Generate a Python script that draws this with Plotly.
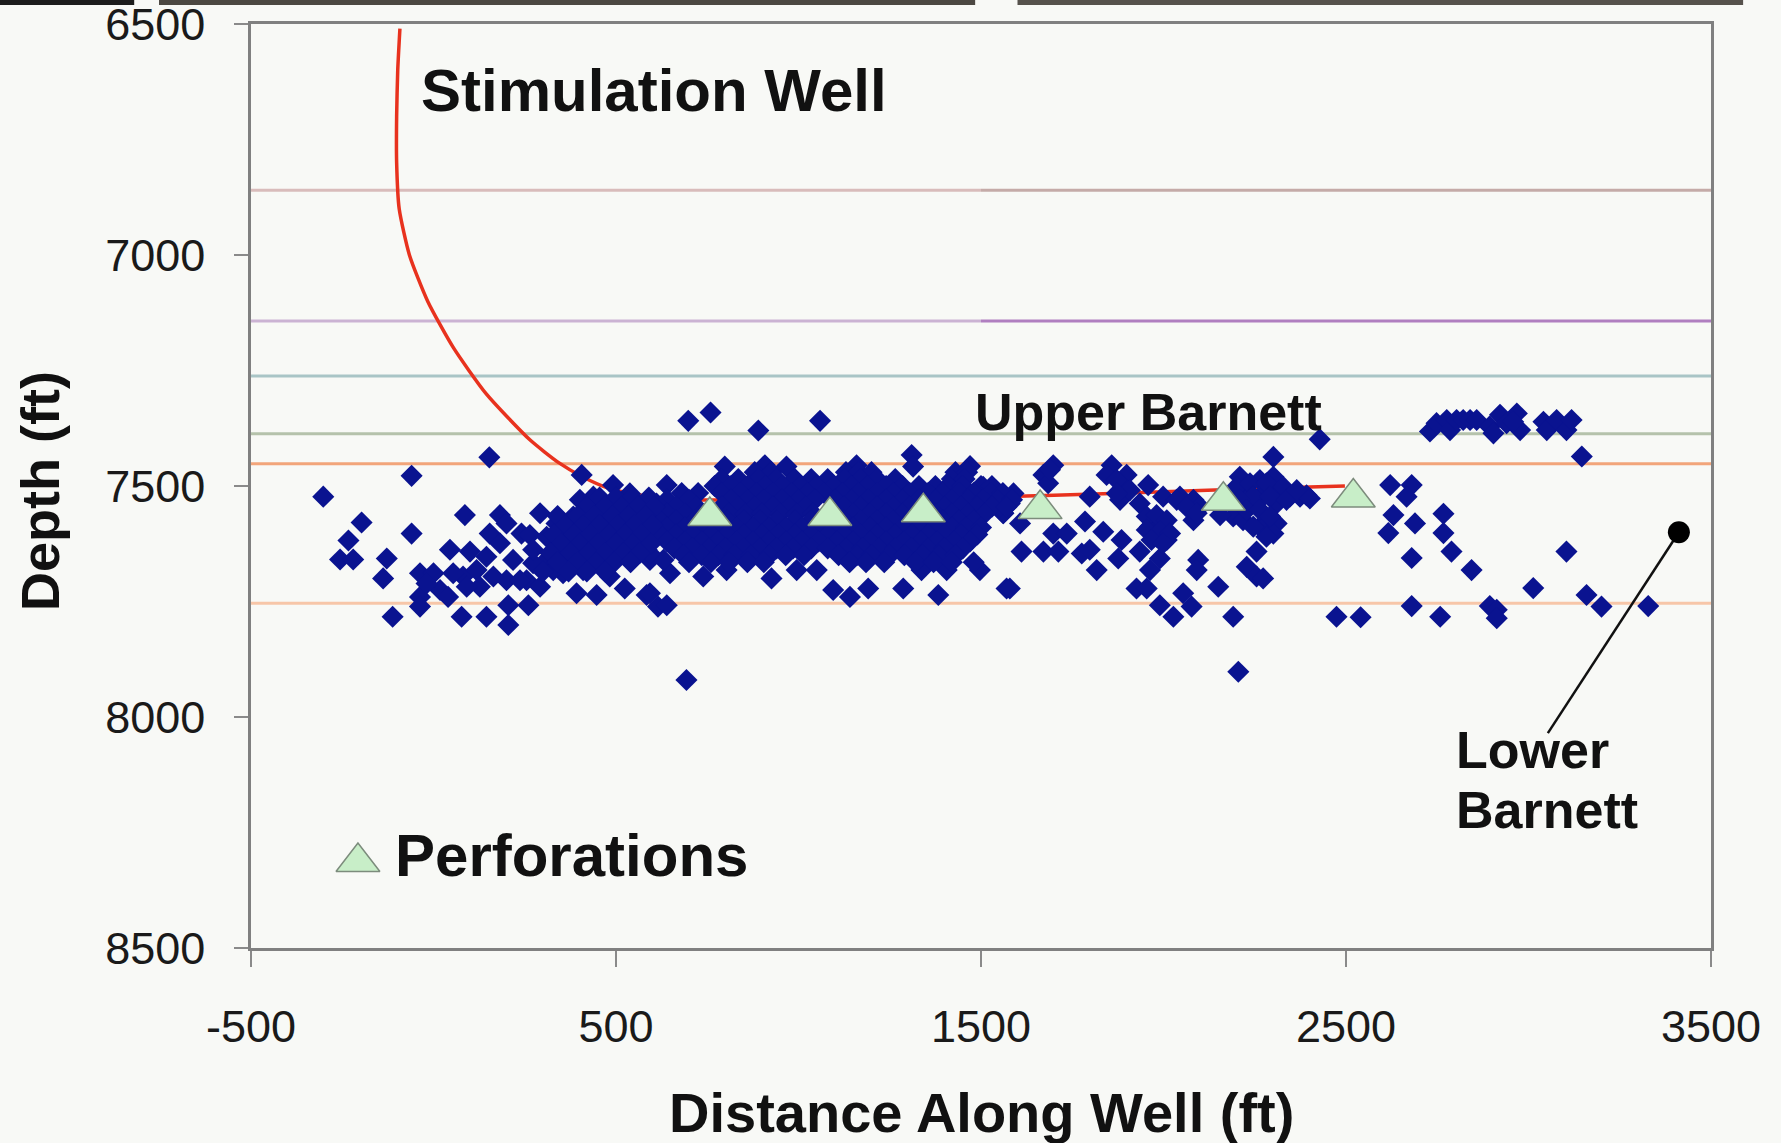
import plotly.graph_objects as go

# ---------------- data ----------------
x_tickvals = [-500, 500, 1500, 2500, 3500]
x_ticktext = ["-500", "500", "1500", "2500", "3500"]
y_tickvals = [6500, 7000, 7500, 8000, 8500]
y_ticktext = ["6500", "7000", "7500", "8000", "8500"]

# formation tops (ft)
formation_depth = [6860, 7143, 7262, 7387, 7452, 7754]

# stimulation well trajectory
well_x = [-92, -98, -101, -101, -94, -66, -16, 54, 144, 264, 344, 408, 480, 570, 680,
          1000, 1500, 1700, 2100, 2400, 2497]
well_depth = [6510, 6600, 6700, 6800, 6900, 7000, 7100, 7200, 7300, 7400, 7450, 7480, 7505, 7520, 7530,
              7528, 7524, 7520, 7510, 7502, 7500]

# perforations
perf_x = [757, 1086, 1342, 1662, 2164, 2520]
perf_depth = [7565, 7565, 7557, 7550, 7532, 7525]

# microseismic events - scattered
events_x = [
    -302, -60, 153, -197, -233, -256, -220, -128, -138, -60, -112, -37, 0, -37, -37, 18, 40, 45, 100, 86,
    77, 145, 205, 205, 260, 81, 118, 145, 182, 200, 154, 182, 241, 264, 292, 218, 200, 255, 292, 337,
    346, 310, 365, 355, 410, 410, 438, 392, 447, 483, 524, 584, 406, 401, 438, 492, 501, 547, 547, 510,
    584, 584, 547, 593, 611, 465, 428, 374, 483, 273, 237, 164, 127, 54, 91, -19, 273, 310, 328, 383,
    438, 538, 615,
    698, 759, 890, 1059, 1310, 1314, 798, 967, 908, 1159, 1470, 639, 693, 639, 593, 739, 803, 926, 995, 1050,
    1095, 1141, 1191, 1287, 1383, 1337, 1406, 1497, 1570, 1561, 1506, 648, 630, 602, 593,
    2428, 2301, 1698, 1671, 1684, 1858, 1844, 1899, 1890, 1881, 1798, 1958, 1999, 1935, 2045, 2082, 2100, 2082,
    1561, 1579, 1561, 1607, 1785, 1698, 1735, 1835, 1885, 1611, 1671, 1712, 1776, 1798, 1817, 1876, 1935, 1963,
    1999, 1981, 2009, 1990, 1963, 1926, 1954, 1990, 2027, 2054, 2077, 2095, 2091, 2150, 2191, 2205, 1579, 2228,
    2255, 2273, 2255, 2264, 2310, 2301, 2191, 2218, 2155, 2209, 2228, 2228, 2264, 2301, 2282, 2319, 2310, 2346,
    2374, 2392, 2264, 2474, 2540,
    1954, 1981, 2009, 1954, 1990, 2018, 1967, 1999, 2200, 2237, 2246, 2282, 2292, 2328, 2337, 2365, 2401, 2209,
    2228, 2264, 2292, 2246, 2282, 2036, 2063, 2091, 1689, 1872, 1908, 1872, 1589, 1552, 1533,
    3146, 2621, 2680, 2666, 2630, 2689, 2767, 2616, 2767, 2789, 2680, 2844, 3104, 3013, 3159, 3200, 3328,
    2680, 2758, 2894, 2913, 2913, 2730, 2748, 2776, 2785, 2803, 2821, 2840, 2858, 2894, 2904, 2922, 2940,
    2968, 2977, 2958, 3041, 3050, 3077, 3104, 3118,
]
events_depth = [
    7523, 7478, 7438, 7579, 7618, 7659, 7659, 7657, 7700, 7603, 7783, 7689, 7689, 7740, 7761, 7725, 7740, 7638, 7642, 7563,
    7783, 7783, 7801, 7758, 7758, 7696, 7682, 7653, 7563, 7581, 7603, 7624, 7603, 7606, 7559, 7660, 7704, 7704, 7718, 7581,
    7624, 7660, 7653, 7689, 7638, 7682, 7638, 7732, 7736, 7696, 7722, 7736, 7476, 7530, 7523, 7498, 7552, 7552, 7603, 7610,
    7588, 7638, 7653, 7660, 7538, 7588, 7603, 7603, 7631, 7667, 7704, 7696, 7718, 7689, 7718, 7711, 7638, 7610, 7682, 7566,
    7559, 7516, 7761,
    7359, 7341, 7380, 7359, 7433, 7458, 7458, 7458, 7455, 7455, 7457, 7498, 7920, 7758, 7732, 7696, 7682, 7700, 7682, 7682,
    7725, 7740, 7722, 7722, 7736, 7682, 7682, 7682, 7722, 7559, 7502, 7689, 7660, 7603, 7646,
    7399, 7437, 7455, 7476, 7494, 7455, 7476, 7476, 7502, 7530, 7523, 7498, 7523, 7538, 7523, 7530, 7545, 7574,
    7523, 7538, 7559, 7581, 7577, 7603, 7603, 7599, 7617, 7642, 7642, 7642, 7646, 7638, 7682, 7657, 7642, 7588,
    7581, 7610, 7617, 7657, 7682, 7722, 7722, 7758, 7783, 7732, 7761, 7660, 7682, 7718, 7783, 7902, 7722, 7675,
    7696, 7700, 7642, 7588, 7581, 7603, 7566, 7574, 7563, 7480, 7509, 7530, 7487, 7480, 7509, 7516, 7538, 7523,
    7523, 7520, 7530, 7783, 7784,
    7566, 7563, 7574, 7595, 7599, 7603, 7617, 7624, 7502, 7494, 7523, 7494, 7523, 7502, 7530, 7509, 7527, 7530,
    7552, 7552, 7566, 7588, 7610, 7530, 7545, 7559, 7465, 7487, 7509, 7516, 7516, 7545, 7516,
    7436, 7498, 7498, 7523, 7563, 7581, 7560, 7602, 7602, 7642, 7656, 7682, 7642, 7721, 7736, 7761, 7760,
    7760, 7783, 7760, 7768, 7786, 7382, 7364, 7357, 7379, 7357, 7357, 7357, 7357, 7371, 7386, 7346, 7364,
    7343, 7379, 7361, 7361, 7379, 7357, 7379, 7357,
]

# microseismic events - dense core, listed by depth rows
core_row_depth = [7470, 7485, 7500, 7515, 7530, 7545, 7560, 7575, 7590, 7605, 7620, 7635, 7650, 7665]
core_row_x = [
    [880, 925, 1130, 1165, 1200, 1430, 1462],
    [790, 835, 890, 940, 990, 1035, 1080, 1125, 1170, 1215, 1265, 1420, 1455],
    [770, 815, 860, 910, 955, 1005, 1050, 1095, 1145, 1190, 1240, 1285, 1330, 1375, 1410, 1450, 1500, 1530],
    [680, 725, 790, 840, 885, 930, 980, 1025, 1070, 1120, 1165, 1215, 1260, 1305, 1355, 1395, 1440, 1480, 1525, 1560],
    [640, 700, 815, 860, 905, 955, 1000, 1045, 1100, 1145, 1190, 1240, 1285, 1330, 1375, 1420, 1465, 1505, 1545, 1585],
    [620, 665, 720, 790, 835, 880, 930, 975, 1020, 1125, 1170, 1215, 1260, 1305, 1400, 1445, 1490, 1530, 1570],
    [640, 690, 735, 810, 855, 900, 950, 995, 1040, 1150, 1195, 1240, 1285, 1375, 1420, 1465, 1510],
    [620, 665, 715, 760, 805, 850, 895, 940, 990, 1035, 1080, 1125, 1170, 1215, 1260, 1305, 1350, 1395, 1440, 1480],
    [640, 690, 735, 780, 830, 875, 920, 965, 1010, 1055, 1100, 1150, 1195, 1240, 1285, 1330, 1375, 1420, 1460, 1500],
    [620, 665, 710, 760, 805, 850, 900, 945, 990, 1035, 1080, 1125, 1170, 1215, 1265, 1310, 1355, 1400, 1445, 1490],
    [640, 690, 735, 780, 830, 875, 920, 965, 1010, 1055, 1105, 1150, 1195, 1240, 1290, 1335, 1380, 1425, 1470],
    [660, 710, 755, 800, 850, 895, 940, 985, 1035, 1080, 1130, 1175, 1220, 1265, 1310, 1355, 1400, 1450],
    [685, 735, 780, 825, 870, 920, 965, 1015, 1110, 1160, 1200, 1250, 1290, 1340, 1385, 1430],
    [700, 760, 810, 860, 905, 1140, 1185, 1235, 1320, 1370, 1420, 1480],
]
heel_row_depth = [7525, 7545, 7565, 7585, 7605, 7625, 7645, 7665, 7685]
heel_row_x = [
    [455, 500, 545, 590],
    [420, 470, 515, 560, 605],
    [340, 395, 440, 490, 535, 580],
    [360, 410, 455, 505, 550, 600],
    [330, 385, 430, 480, 525, 570],
    [350, 400, 450, 500, 545, 595],
    [320, 375, 425, 470, 520, 565],
    [340, 395, 445, 495, 540],
    [300, 370, 420, 470],
]

# Lower Barnett pointer (circle end, text end)
pointer_x = [3412, 3053]
pointer_depth = [7600, 8035]

# legend sample
legend_x = [-207]
legend_depth = [8314]

# ---------------- build ----------------
all_x = list(events_x)
all_d = list(events_depth)
for d, row in zip(core_row_depth + heel_row_depth, core_row_x + heel_row_x):
    all_x.extend(row)
    all_d.extend([d] * len(row))

FONT = "Liberation Sans, Arial, sans-serif"
BG = "#f8f9f6"

fig = go.Figure()

fig.add_trace(go.Scatter(
    x=well_x, y=well_depth, mode="lines",
    line=dict(color="#e8321e", width=3.5, shape="spline", smoothing=0.6),
    hoverinfo="skip"))

fig.add_trace(go.Scatter(
    x=all_x, y=all_d, mode="markers",
    marker=dict(symbol="diamond", size=17, color="#0a1390", line=dict(width=0)),
    hoverinfo="skip"))

tri_marker = dict(symbol="triangle-up", size=38, color="#c8eec8",
                  line=dict(color="#7c8c7c", width=1.5))
fig.add_trace(go.Scatter(x=perf_x, y=perf_depth, mode="markers",
                         marker=tri_marker, hoverinfo="skip"))
fig.add_trace(go.Scatter(x=legend_x, y=legend_depth, mode="markers",
                         marker=tri_marker, hoverinfo="skip"))

fig.add_trace(go.Scatter(x=pointer_x, y=pointer_depth, mode="lines",
                         line=dict(color="#111111", width=2.5), hoverinfo="skip"))
fig.add_trace(go.Scatter(x=pointer_x[:1], y=pointer_depth[:1], mode="markers",
                         marker=dict(symbol="circle", size=22, color="#000000"),
                         hoverinfo="skip"))

# formation lines
left_cols = ["#d9bcbb", "#cbb3d3", "#a9c5c6", "#b5c2ab", "#f2a57a", "#f7c6a8"]
right_cols = ["#c5aba8", "#b07fc0", "#a9c5c6", "#b5c2ab", "#f2a57a", "#f7c6a8"]
shapes = []
for d, cl, cr in zip(formation_depth, left_cols, right_cols):
    shapes.append(dict(type="line", xref="x", yref="y", x0=-500, x1=1500, y0=d, y1=d,
                       line=dict(color=cl, width=3), layer="below"))
    shapes.append(dict(type="line", xref="x", yref="y", x0=1500, x1=3500, y0=d, y1=d,
                       line=dict(color=cr, width=3), layer="below"))

# photographic dark strip along the top edge
for x0, x1, c in [(-0.172, -0.080, "#1c1c1c"), (-0.063, 0.496, "#4c4842"), (0.525, 1.022, "#56524c")]:
    shapes.append(dict(type="rect", xref="paper", yref="paper", x0=x0, x1=x1,
                       y0=1.0206, y1=1.03, fillcolor=c, line=dict(width=0)))

ann = []
def txt(x, y, s, size, bold=True, xanchor="left", xref="x", yref="y", angle=0):
    ann.append(dict(x=x, y=y, xref=xref, yref=yref, text=(f"<b>{s}</b>" if bold else s),
                    showarrow=False, xanchor=xanchor, yanchor="middle", textangle=angle,
                    font=dict(family=FONT, size=size, color="#111111")))

txt(-40, 6643, "Stimulation Well", 60)
txt(1478, 7340, "Upper Barnett", 52)
txt(-112, 8299, "Perforations", 60)
txt(2796, 8071, "Lower", 52)
txt(2796, 8201, "Barnett", 52)
txt(0.5, -0.1775, "Distance Along Well (ft)", 56, xanchor="center", xref="paper", yref="paper")
txt(-0.1445, 0.4946, "Depth (ft)", 54, xanchor="center", xref="paper", yref="paper", angle=-90)

fig.update_layout(
    width=1781, height=1143,
    margin=dict(l=251, r=70, t=24, b=195, autoexpand=False),
    paper_bgcolor=BG, plot_bgcolor=BG,
    showlegend=False, hovermode=False,
    shapes=shapes, annotations=ann,
    font=dict(family=FONT, color="#1a1a1a"),
)
fig.update_xaxes(range=[-500, 3500], tickvals=x_tickvals, ticktext=x_ticktext,
                 showgrid=False, zeroline=False, showline=True, linecolor="#808080",
                 linewidth=2.5, mirror=True, ticks="outside", ticklen=16, tickwidth=2,
                 tickcolor="#8a8a8a", ticklabelstandoff=21, ticklabeloverflow="allow",
                 automargin=False,
                 tickfont=dict(family=FONT, size=45, color="#1a1a1a"))
fig.update_yaxes(range=[8500, 6500], tickvals=y_tickvals, ticktext=y_ticktext,
                 showgrid=False, zeroline=False, showline=True, linecolor="#808080",
                 linewidth=2.5, mirror=True, ticks="outside", ticklen=14, tickwidth=2,
                 tickcolor="#8a8a8a", ticklabelstandoff=20, ticklabeloverflow="allow",
                 automargin=False,
                 tickfont=dict(family=FONT, size=45, color="#1a1a1a"))

fig.write_html("out.html")
